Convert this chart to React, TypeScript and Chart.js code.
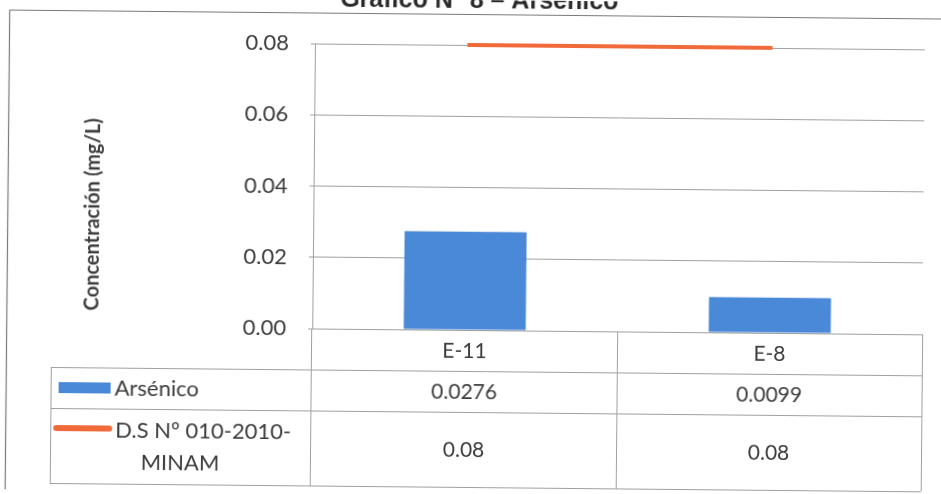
import React, { useEffect, useRef } from "react";
import { Chart, registerables } from "chart.js";

Chart.register(...registerables);

// ---- data ----
const TITLE = "Gráfico N° 8 – Arsénico";
const Y_TITLE = "Concentración (mg/L)";
const CATEGORIES = ["E-11", "E-8"];
const ARSENICO = [0.0276, 0.0099];
const LIMITE = [0.08, 0.08];
const SERIES_ARSENICO = "Arsénico";
const SERIES_LIMITE_LINES = ["D.S Nº 010-2010-", "MINAM"];
const Y_MIN = 0;
const Y_MAX = 0.08;
const Y_STEP = 0.02;

const BLUE = "#4a88d8";
const ORANGE = "#f06a3a";
const TEXT = "#3c3c3c";
const LINE_GRAY = "#a0a0a0";
const FONT = "Lato, 'Open Sans', sans-serif";

const decorPlugin = {
  id: "decor",
  afterDraw(chart: any) {
    const { ctx, chartArea } = chart;
    const L = chartArea.left;
    const R = chartArea.right;
    const B = chartArea.bottom;
    const n = CATEGORIES.length;
    const legendLeft = 52;
    const row1 = 371;
    const row2 = 412;
    const row3 = 487;
    const xs = chart.scales.x;

    ctx.save();
    // chart title (cut at top)
    ctx.fillStyle = "#2a2a2a";
    ctx.font = `bold 25px 'Liberation Sans', Arial, sans-serif`;
    ctx.textAlign = "center";
    ctx.textBaseline = "alphabetic";
    ctx.fillText(TITLE, 477, 8);

    // outer frame
    ctx.strokeStyle = "#7a7a7a";
    ctx.lineWidth = 1.2;
    ctx.beginPath();
    ctx.moveTo(960, 14.5);
    ctx.lineTo(7.5, 14.5);
    ctx.lineTo(7.5, 497.5);
    ctx.lineTo(960, 497.5);
    ctx.stroke();

    // y axis title
    ctx.save();
    ctx.translate(93, 218);
    ctx.rotate(-Math.PI / 2);
    ctx.fillStyle = TEXT;
    ctx.font = `bold 20px ${FONT}`;
    ctx.textAlign = "center";
    ctx.textBaseline = "middle";
    ctx.fillText(Y_TITLE, 0, 0);
    ctx.restore();

    // data table lines
    ctx.strokeStyle = LINE_GRAY;
    ctx.lineWidth = 1;
    const hl = (x1: number, x2: number, y: number) => {
      ctx.beginPath();
      ctx.moveTo(x1, y + 0.5);
      ctx.lineTo(x2, y + 0.5);
      ctx.stroke();
    };
    const vl = (x: number, y1: number, y2: number) => {
      ctx.beginPath();
      ctx.moveTo(x + 0.5, y1);
      ctx.lineTo(x + 0.5, y2);
      ctx.stroke();
    };
    hl(legendLeft, R, row1);
    hl(legendLeft, R, row2);
    hl(legendLeft, R, row3);
    vl(legendLeft, row1, row3);
    for (let i = 0; i <= n; i++) {
      const bx = Math.round(L + (i * (R - L)) / n);
      vl(i === 0 ? L - 1 : bx, B, row3);
    }

    // table texts
    ctx.fillStyle = TEXT;
    ctx.font = `21px ${FONT}`;
    ctx.textAlign = "center";
    ctx.textBaseline = "middle";
    CATEGORIES.forEach((c, i) => {
      const cx = xs.getPixelForValue(i);
      ctx.fillText(c, cx, (B + row1) / 2 + 1);
      ctx.fillText(String(ARSENICO[i]), cx, (row1 + row2) / 2 + 1);
      ctx.fillText(String(LIMITE[i]), cx, (row2 + row3) / 2 + 1);
    });

    // legend keys
    ctx.fillStyle = BLUE;
    ctx.fillRect(60, 386, 52, 11);
    ctx.strokeStyle = ORANGE;
    ctx.lineWidth = 6;
    ctx.lineCap = "round";
    ctx.beginPath();
    ctx.moveTo(58, 432);
    ctx.lineTo(111, 432);
    ctx.stroke();

    ctx.fillStyle = TEXT;
    ctx.font = `22px ${FONT}`;
    ctx.textAlign = "left";
    ctx.fillText(SERIES_ARSENICO, 116, 392);
    ctx.fillText(SERIES_LIMITE_LINES[0], 117, 434);
    ctx.textAlign = "center";
    ctx.fillText(SERIES_LIMITE_LINES[1], 182, 466);
    ctx.restore();
  },
};

export default function App() {
  const ref = useRef<HTMLCanvasElement | null>(null);

  useEffect(() => {
    if (!ref.current) return;
    const chart = new Chart(ref.current, {
      type: "bar",
      data: {
        labels: CATEGORIES,
        datasets: [
          {
            type: "line",
            label: SERIES_LIMITE_LINES.join(""),
            data: LIMITE,
            borderColor: ORANGE,
            backgroundColor: ORANGE,
            borderWidth: 4,
            pointRadius: 0,
            clip: false,
            order: 0,
          } as any,
          {
            type: "bar",
            label: SERIES_ARSENICO,
            data: ARSENICO,
            backgroundColor: BLUE,
            borderWidth: 0,
            barPercentage: 0.4,
            categoryPercentage: 1,
            order: 1,
          },
        ],
      },
      options: {
        responsive: false,
        animation: false,
        layout: { padding: { top: 45, bottom: 164, right: 18, left: 0 } },
        plugins: {
          legend: { display: false },
          title: { display: false },
          tooltip: { enabled: false },
        },
        scales: {
          x: {
            display: false,
            offset: true,
            grid: { display: false },
          },
          y: {
            min: Y_MIN,
            max: Y_MAX,
            afterFit: (s: any) => {
              s.width = 313;
            },
            ticks: {
              stepSize: Y_STEP,
              padding: 22,
              color: TEXT,
              font: { family: FONT, size: 22 },
              callback: (v: any) => Number(v).toFixed(2),
            },
            grid: {
              color: LINE_GRAY,
              lineWidth: 1,
              tickLength: 4,
              drawTicks: true,
            },
            border: { display: true, color: LINE_GRAY, width: 1 },
          },
        },
      },
      plugins: [decorPlugin],
    });
    return () => chart.destroy();
  }, []);

  return (
    <div
      style={{
        position: "absolute",
        left: 0,
        top: 0,
        width: 941,
        height: 494,
        background: "#fff",
        transform: "rotate(0.55deg)",
        transformOrigin: "470px 247px",
      }}
    >
      <canvas ref={ref} width={941} height={494} style={{ display: "block" }} />
    </div>
  );
}
